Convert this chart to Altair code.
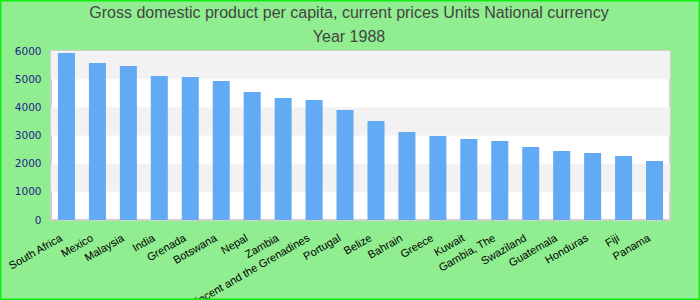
import altair as alt
import pandas as pd

countries = ["South Africa", "Mexico", "Malaysia", "India", "Grenada", "Botswana",
             "Nepal", "Zambia", "Saint Vincent and the Grenadines", "Portugal", "Belize",
             "Bahrain", "Greece", "Kuwait", "Gambia, The", "Swaziland", "Guatemala",
             "Honduras", "Fiji", "Panama"]
values = [5930, 5570, 5470, 5110, 5075, 4935, 4545, 4330, 4260, 3905, 3515,
          3125, 2985, 2875, 2805, 2590, 2450, 2380, 2270, 2095]

band_lo = [1000, 3000, 5000]
band_hi = [2000, 4000, 6000]

y_ticks = [0, 1000, 2000, 3000, 4000, 5000, 6000]

title_lines = ["Gross domestic product per capita, current prices Units National currency",
               "Year 1988"]

W, H = 619, 169
PL, PT = 51, 51

df = pd.DataFrame({"country": countries, "value": values})
bands = pd.DataFrame({"lo": band_lo, "hi": band_hi})
one = pd.DataFrame({"k": [0]})

yscale = alt.Scale(domain=[0, 6000])
y_axis = alt.Axis(values=y_ticks, format="d", labelOverlap=False,
                  ticks=False, domain=False, grid=False,
                  labelColor="#222288", labelFont="DejaVu Sans",
                  labelFontSize=10.5, labelPadding=10)

band_layer = alt.Chart(bands).mark_rect(color="#f2f2f2").encode(
    x=alt.value(0), x2=alt.value(W),
    y=alt.Y("lo:Q", scale=yscale, title=None, axis=y_axis),
    y2="hi:Q",
)

bars = alt.Chart(df).mark_bar(color="#62aaf4").encode(
    x=alt.X("country:N", sort=countries, title=None,
            scale=alt.Scale(paddingInner=0.45, paddingOuter=0.225),
            axis=alt.Axis(labelAngle=-30, labelAlign="right", labelBaseline="middle",
                          labelPadding=17, labelOffset=-5, ticks=False, domain=False,
                          labelColor="black", labelFont="Liberation Sans",
                          labelFontSize=11, labelOverlap=False, labelLimit=0)),
    y=alt.Y("value:Q", scale=yscale, title=None, axis=y_axis),
)

frame = alt.Chart(one).mark_rect(fill=None, stroke="#11ee11", strokeWidth=1.5,
                                 clip=False).encode(
    x=alt.value(-PL + 0.75), x2=alt.value(700 - PL - 0.75),
    y=alt.value(-PT + 0.75), y2=alt.value(300 - PT - 0.75),
)

def title_text(line, base_y):
    return alt.Chart(one).mark_text(
        font="Liberation Sans", fontSize=16, color="#444444",
        align="center", baseline="alphabetic",
    ).encode(x=alt.value(349 - PL), y=alt.value(base_y - PT), text=alt.value(line))

t1 = title_text(title_lines[0], 17.5)
t2 = title_text(title_lines[1], 41.5)

chart = alt.layer(band_layer, bars, frame, t1, t2).properties(
    width=W, height=H,
    background="#90ee90",
    padding={"left": PL, "top": PT, "right": 700 - PL - W, "bottom": 300 - PT - H},
    autosize=alt.AutoSizeParams(type="none"),
).configure_view(fill="white", stroke="#d0d0d0", strokeWidth=2)

chart.save("out.html", embed_options={"renderer": "svg", "actions": False})
